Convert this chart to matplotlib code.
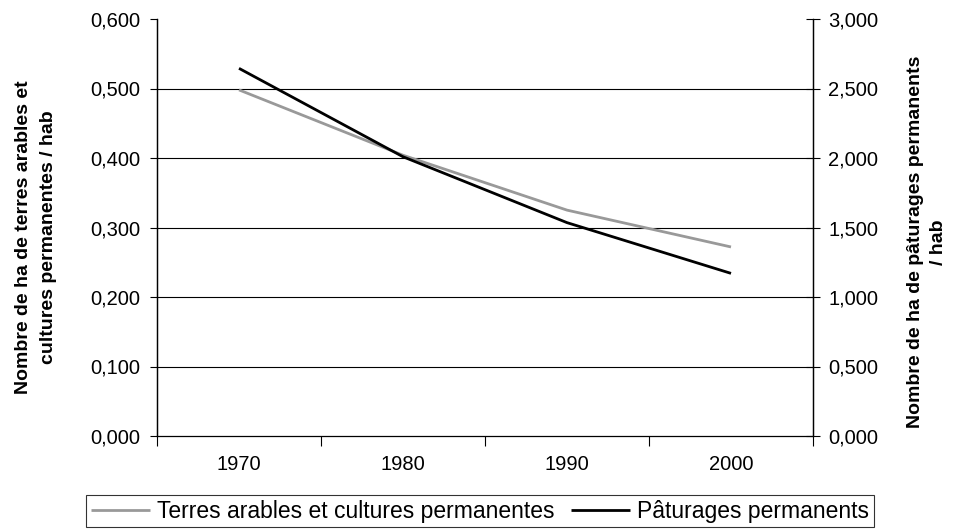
import matplotlib
matplotlib.use("Agg")
import matplotlib.pyplot as plt
from matplotlib.ticker import FuncFormatter, FixedLocator

years = ["1970", "1980", "1990", "2000"]
terres_arables = [0.498, 0.404, 0.325, 0.272]
paturages = [2.645, 2.009, 1.535, 1.170]

label_left = "Nombre de ha de terres arables et\ncultures permanentes / hab"
label_right = "Nombre de ha de pâturages permanents\n/ hab"
legend_labels = ["Terres arables et cultures permanentes", "Pâturages permanents"]

plt.rcParams["font.family"] = ["Liberation Sans", "DejaVu Sans"]


def fr_fmt(v, _pos):
    return f"{v:.3f}".replace(".", ",")


fig = plt.figure(figsize=(9.54, 5.29), dpi=100)
ax = fig.add_axes([157 / 954, 1 - 436 / 529, (813 - 157) / 954, (436 - 19) / 529])
ax2 = ax.twinx()

x = list(range(len(years)))
l1, = ax.plot(x, terres_arables, color="#999999", lw=2.0, solid_capstyle="butt", zorder=3)
l2, = ax2.plot(x, paturages, color="black", lw=2.0, solid_capstyle="butt", zorder=3)

ax.set_xlim(-0.5, len(years) - 0.5)
ax.set_ylim(0, 0.6)
ax2.set_ylim(0, 3.0)

ax.set_yticks([0, 0.1, 0.2, 0.3, 0.4, 0.5, 0.6])
ax2.set_yticks([0, 0.5, 1.0, 1.5, 2.0, 2.5, 3.0])
ax.yaxis.set_major_formatter(FuncFormatter(fr_fmt))
ax2.yaxis.set_major_formatter(FuncFormatter(fr_fmt))

for yv in [0.1, 0.2, 0.3, 0.4, 0.5]:
    ax.axhline(yv, color="black", lw=0.8, zorder=1)

# category ticks sit on the boundaries, labels in the middle
ax.xaxis.set_major_locator(FixedLocator([i - 0.5 for i in range(len(years) + 1)]))
ax.xaxis.set_minor_locator(FixedLocator(x))
ax.set_xticklabels([""] * (len(years) + 1))
ax.set_xticklabels(years, minor=True)
ax.tick_params(axis="x", which="major", direction="out", length=7, width=0.8)
ax.tick_params(axis="x", which="minor", length=0, pad=13.5, labelsize=14.5)
ax.tick_params(axis="y", direction="out", length=5, width=0.8, pad=7, labelsize=14.5)
ax2.tick_params(axis="y", direction="inout", length=10, width=0.8, pad=6, labelsize=14.5)

for a in (ax, ax2):
    a.spines["top"].set_visible(False)
    for s in ("left", "right", "bottom"):
        a.spines[s].set_linewidth(0.9)
ax2.spines["bottom"].set_visible(False)

fig.text(36 / 954, 1 - 237 / 529, label_left, rotation=90, ha="center", va="center",
         fontsize=14, fontweight="bold", linespacing=1.55, multialignment="center")
fig.text(927 / 954, 1 - 242 / 529, label_right, rotation=90, ha="center", va="center",
         fontsize=14, fontweight="bold", linespacing=1.4, multialignment="center")

leg = fig.legend([l1, l2], legend_labels, loc="lower center", bbox_to_anchor=(0.503, 0.003),
                 ncol=2, frameon=True, fancybox=False, fontsize=16.5, handlelength=2.6,
                 handletextpad=0.3, columnspacing=0.7, borderpad=0.2, borderaxespad=0)
leg.get_frame().set_edgecolor("black")
leg.get_frame().set_linewidth(0.8)

fig.savefig("out.png", dpi=100)
